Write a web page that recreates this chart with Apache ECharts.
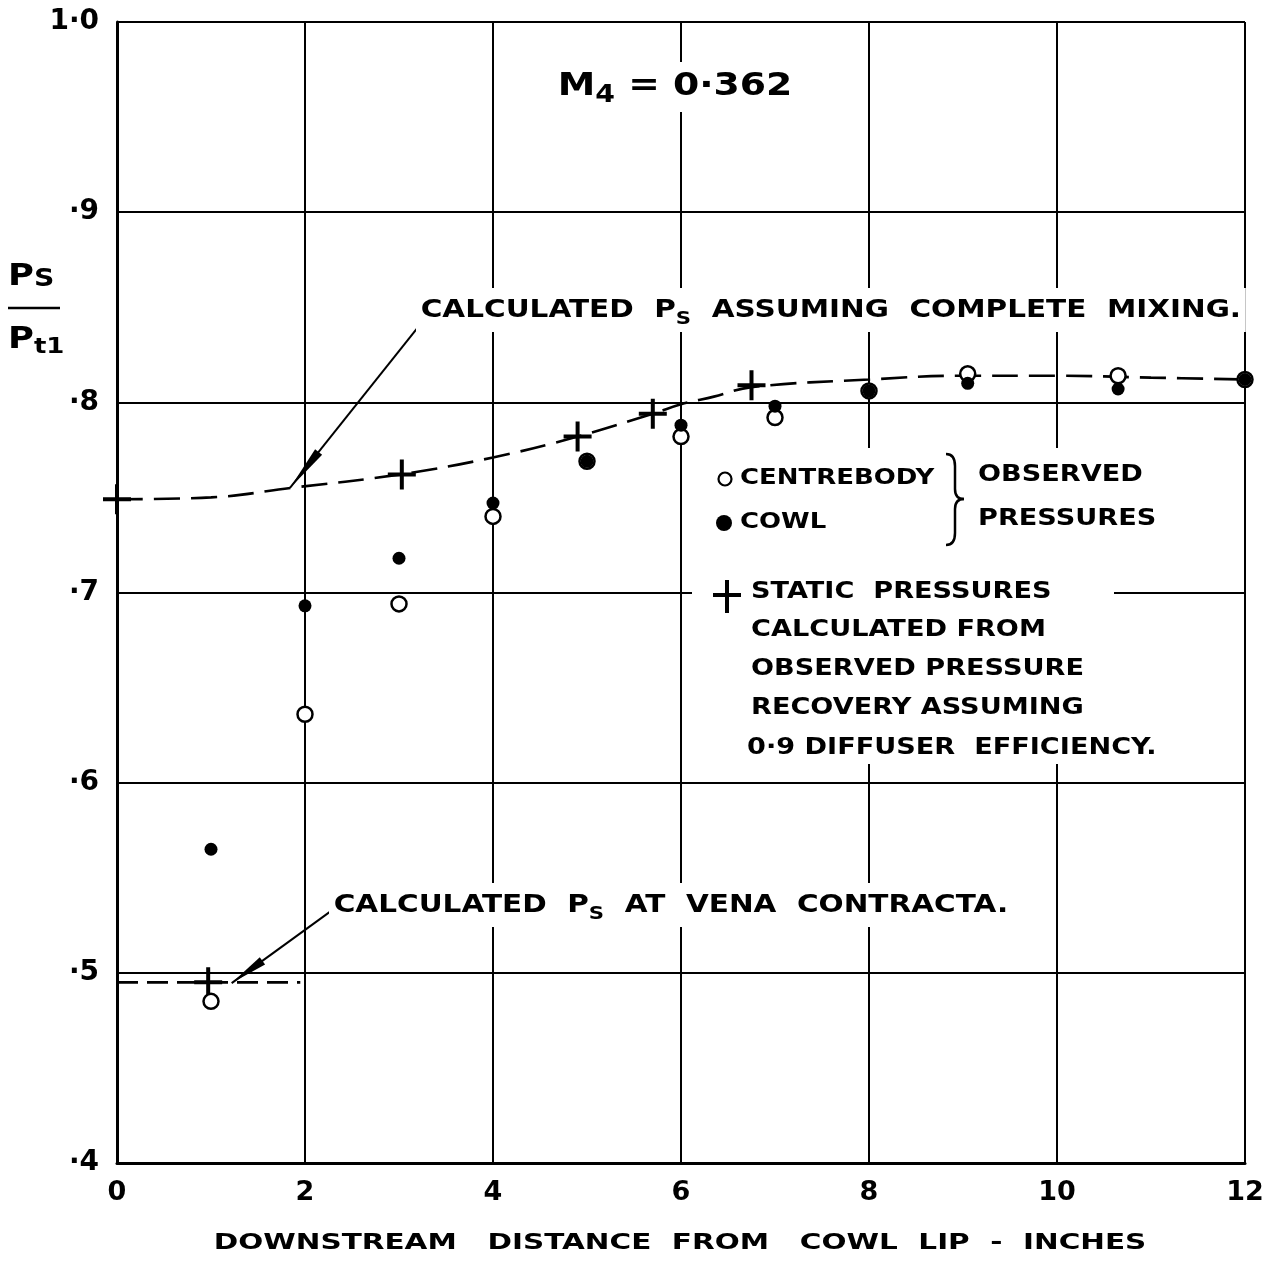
<!DOCTYPE html>
<html><head><meta charset="utf-8">
<script src="https://cdn.jsdelivr.net/npm/echarts@6/dist/echarts.min.js"></script>
<style>html,body{margin:0;padding:0;background:#fff}#c{width:1280px;height:1261px}</style>
</head><body><div id="c"></div>
<script>
// ---- data ----
const xTickLabels = ['0','2','4','6','8','10','12'];
const yTickLabels = {4:'·4',5:'·5',6:'·6',7:'·7',8:'·8',9:'·9',10:'1·0'};
const centrebodyX = [1, 2, 3, 4, 5, 6, 7, 8, 9.05, 10.65, 12];
const centrebodyY = [0.485, 0.636, 0.694, 0.740, 0.769, 0.782, 0.792, 0.806, 0.815, 0.814, 0.812];
const cowlX = [1, 2, 3, 4, 5, 6, 7, 8, 9.05, 10.65, 12];
const cowlY = [0.565, 0.693, 0.718, 0.747, 0.769, 0.788, 0.798, 0.806, 0.810, 0.807, 0.812];
const staticX = [0, 0.97, 3.03, 4.9, 5.7, 6.75];
const staticY = [0.749, 0.495, 0.762, 0.782, 0.794, 0.809];
const mixingX = [0, 1, 1.85, 3, 4, 4.9, 5.7, 6.0, 6.35, 6.75, 8, 9, 10, 11, 12];
const mixingY = [0.749, 0.750, 0.755, 0.762, 0.771, 0.782, 0.794, 0.799, 0.803, 0.808, 0.812, 0.814, 0.814, 0.813, 0.812];
const venaX = [0, 1.95];
const venaY = [0.495, 0.495];
const leaderFrom = [[3.22, 0.8406], [2.29, 0.533]];
const leaderTo   = [[1.84, 0.755], [1.22, 0.4946]];

const zip = (a,b)=>a.map((v,i)=>[v,b[i]]);
const FONT = '"DejaVu Sans", sans-serif';
const SX = 1.18;
const plusPath = 'path://M0,13 H28 V17 H0 Z M12,0 H16 V30 H12 Z';

const chart = echarts.init(document.getElementById('c'), null, {renderer:'canvas'});

function txt(x, y, text, size, bg) {
  const st = {x:0, y:0, text, font:'bold '+size+'px '+FONT, fill:'#000', align:'left', verticalAlign:'middle'};
  if (bg) { st.backgroundColor='#fff'; st.padding=[3,4]; }
  return {type:'text', z:50, x, y, scaleX:SX, style:st};
}
function rtxt(x, y, text, size, subSize, subPad, bg) {
  const st = {x:0, y:0, text, align:'left', verticalAlign:'middle',
    rich:{a:{font:'bold '+size+'px '+FONT, fill:'#000'}, s:{font:'bold '+subSize+'px '+FONT, fill:'#000', padding:[subPad,0,0,0]}}};
  if (bg) { st.backgroundColor='#fff'; st.padding=[4,4]; }
  return {type:'text', z:50, x, y, scaleX:SX, style:st};
}
const bk = {stroke:'#000', lineWidth:2.5, fill:'none'};

const option = {
  backgroundColor:'#fff',
  animation:false,
  grid:{left:117, top:22, width:1128, height:1141, containLabel:false},
  xAxis:{type:'value', min:0, max:12, interval:2,
    axisLine:{show:true, onZero:false, lineStyle:{color:'#000', width:3}},
    axisTick:{show:false},
    axisLabel:{margin:16, color:'#000', fontFamily:FONT, fontWeight:'bold', fontSize:27,
      formatter:(v)=>xTickLabels[Math.round(v/2)]},
    splitLine:{show:true, lineStyle:{color:'#000', width:2}}},
  yAxis:{type:'value', min:0.4, max:1.0, interval:0.1,
    axisLine:{show:true, onZero:false, lineStyle:{color:'#000', width:3}},
    axisTick:{show:false},
    axisLabel:{margin:18, color:'#000', fontFamily:FONT, fontWeight:'bold', fontSize:28,
      formatter:(v)=>yTickLabels[Math.round(v*10)]},
    splitLine:{show:true, lineStyle:{color:'#000', width:2}}},
  series:[
    {type:'line', data:zip(mixingX, mixingY), smooth:0.4, symbol:'none', z:3,
      lineStyle:{color:'#000', width:2.6, type:[26,11], opacity:1}},
    {type:'line', data:zip(venaX, venaY), symbol:'none', z:3,
      lineStyle:{color:'#000', width:2.6, type:[21,9], opacity:1}},
    {type:'custom', z:4, data:leaderFrom.map((f,i)=>[f[0],f[1],leaderTo[i][0],leaderTo[i][1]]),
      renderItem:(params, api)=>{
        const p1 = api.coord([api.value(0), api.value(1)]);
        const p2 = api.coord([api.value(2), api.value(3)]);
        const dx=p1[0]-p2[0], dy=p1[1]-p2[1], L=Math.hypot(dx,dy);
        const ux=dx/L, uy=dy/L, px=-uy, py=ux;
        const len = params.dataIndex===0 ? 46 : 38, w=4.5;
        const b=[p2[0]+ux*len, p2[1]+uy*len];
        return {type:'group', children:[
          {type:'line', shape:{x1:p1[0],y1:p1[1],x2:p2[0],y2:p2[1]}, style:{stroke:'#000', lineWidth:2}},
          {type:'polygon', shape:{points:[p2,[b[0]+px*w,b[1]+py*w],[b[0]-px*w,b[1]-py*w]]}, style:{fill:'#000'}}
        ]};
      }},
    {type:'scatter', data:zip(staticX, staticY), symbol:plusPath, symbolSize:[28,30], z:5,
      itemStyle:{color:'#000', opacity:1}},
    {type:'scatter', data:zip(centrebodyX, centrebodyY), symbol:'circle', symbolSize:15, z:6,
      itemStyle:{color:'#fff', borderColor:'#000', borderWidth:2.5, opacity:1}},
    {type:'scatter', data:zip(cowlX, cowlY), symbol:'circle', symbolSize:13, z:7,
      itemStyle:{color:'#000', opacity:1}}
  ],
  graphic:[
    // legend white box (leaves part of the 0.7 grid line visible)
    {type:'rect', z:40, shape:{x:692, y:448, width:512, height:128}, style:{fill:'#fff'}},
    {type:'rect', z:40, shape:{x:692, y:576, width:422, height:30}, style:{fill:'#fff'}},
    {type:'rect', z:40, shape:{x:692, y:606, width:512, height:158}, style:{fill:'#fff'}},
    rtxt(553, 87, '{a|M}{s|4}{a| = 0·362}', 32, 24, 18, true),
    rtxt(416, 310, '{a|CALCULATED  P}{s|S}{a|  ASSUMING  COMPLETE  MIXING.}', 25, 18, 18, true),
    rtxt(329, 905, '{a|CALCULATED  P}{s|S}{a|  AT  VENA  CONTRACTA.}', 25, 18, 18, true),
    // legend contents
    {type:'circle', z:55, shape:{cx:725, cy:479, r:6.5}, style:{fill:'#fff', stroke:'#000', lineWidth:2.2}},
    {type:'circle', z:55, shape:{cx:724, cy:523, r:8}, style:{fill:'#000'}},
    txt(740, 478, 'CENTREBODY', 22),
    txt(740, 522, 'COWL', 22),
    {type:'bezierCurve', z:55, shape:{x1:946,y1:454,x2:955,y2:466,cpx1:955,cpy1:454}, style:bk},
    {type:'line', z:55, shape:{x1:955,y1:466,x2:955,y2:489}, style:bk},
    {type:'bezierCurve', z:55, shape:{x1:955,y1:489,x2:964,y2:499,cpx1:955,cpy1:499}, style:bk},
    {type:'bezierCurve', z:55, shape:{x1:964,y1:499,x2:955,y2:509,cpx1:955,cpy1:499}, style:bk},
    {type:'line', z:55, shape:{x1:955,y1:509,x2:955,y2:533}, style:bk},
    {type:'bezierCurve', z:55, shape:{x1:955,y1:533,x2:946,y2:545,cpx1:955,cpy1:545}, style:bk},
    txt(978, 475, 'OBSERVED', 23),
    txt(978, 519, 'PRESSURES', 23),
    {type:'rect', z:55, shape:{x:713, y:593, width:28, height:4}, style:{fill:'#000'}},
    {type:'rect', z:55, shape:{x:725, y:580, width:4, height:33}, style:{fill:'#000'}},
    txt(751, 592, 'STATIC  PRESSURES', 23),
    txt(751, 630, 'CALCULATED FROM', 23),
    txt(751, 669, 'OBSERVED PRESSURE', 23),
    txt(751, 708, 'RECOVERY ASSUMING', 23),
    txt(747, 748, '0·9 DIFFUSER  EFFICIENCY.', 23),
    // y axis name (fraction)
    rtxt(8, 277, '{a|P}{s|S}', 30, 24, 6, false),
    {type:'line', z:50, shape:{x1:8, y1:308, x2:60, y2:308}, style:{stroke:'#000', lineWidth:2.5}},
    rtxt(8, 340, '{a|P}{s|t1}', 30, 22, 14, false),
    // x axis title
    {type:'text', z:50, x:680, y:1243, scaleX:1.34, style:{x:0, y:0, text:'DOWNSTREAM   DISTANCE  FROM   COWL  LIP  -  INCHES',
      font:'bold 22px '+FONT, fill:'#000', align:'center', verticalAlign:'middle'}}
  ]
};
chart.setOption(option);
</script></body></html>
